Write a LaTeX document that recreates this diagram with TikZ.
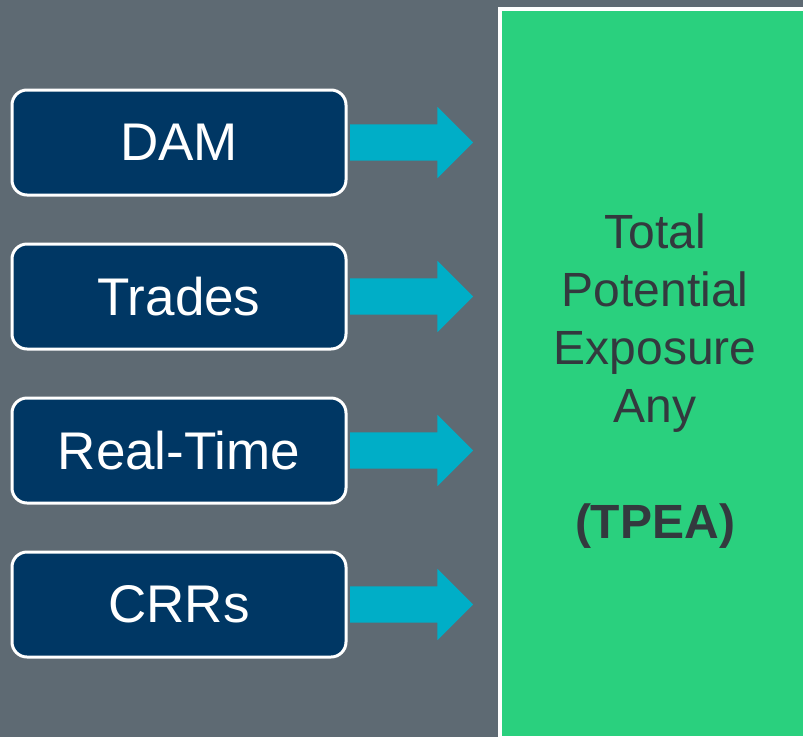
\documentclass[tikz,border=0pt]{standalone}
\usepackage{fontspec}
\setmainfont{Liberation Sans}
\usetikzlibrary{
  shapes.arrows,
  positioning}
\definecolor{bgcolor}{RGB}{94,106,115}
\definecolor{marketcolor}{RGB}{0,55,100}
\definecolor{flowcolor}{RGB}{0,174,199}
\definecolor{tpeacolor}{RGB}{42,208,126}
\definecolor{tpeatextcolor}{RGB}{51,57,62}
\tikzset{
  %% market : one market input
  market/.style={
    rectangle,
    rounded corners=15pt,
    draw=white,
    line width=3pt,
    fill=marketcolor,
    text=white,
    font=\fontsize{53}{62}\selectfont,
    minimum width=334pt,
    minimum height=105pt,
    outer sep=0pt,
    align=center
  },
  %% flow : block arrow towards the exposure box
  flow/.style={
    single arrow,
    fill=flowcolor,
    single arrow head extend=17.5pt,
    inner xsep=0pt,
    inner ysep=18pt,
    minimum height=123pt,
    outer sep=0pt
  },
  %% exposure : the total exposure box
  exposure/.style={
    rectangle,
    draw=white,
    line width=4pt,
    fill=tpeacolor,
    minimum width=310pt,
    minimum height=729pt
  },
  %% exposurelabel : text inside the exposure box
  exposurelabel/.style={
    text=tpeatextcolor,
    font=\fontsize{48}{58}\selectfont,
    align=center
  }
}

\begin{document}
\begin{tikzpicture}
  [x=1pt,
  y=-1pt]

  %% Background and page size
  \fill [bgcolor] (0, 0) rectangle (803, 737);
  \useasboundingbox (0, 0) rectangle (803, 737);
  \clip (0, 0) rectangle (803, 737);

  %% Exposure box
  \node (tpea) [exposure] at (655, 373.5){};
  \node (tpealabel) [exposurelabel] at (655, 381){%
    Total\\
    Potential\\
    Exposure\\
    Any\\[58pt]
    \textbf{(TPEA)}};

  %% Market inputs
  \node (dam) [market] at (179, 142.5){DAM};
  \node (trades) [market, below=49pt of dam]{Trades};
  \node (realtime) [market, below=49pt of trades]{Real-Time};
  \node (crrs) [market, below=49pt of realtime]{CRRs};

  %% Flows into the exposure box
  \node (damflow) [flow, right=4pt of dam]{};
  \node (tradesflow) [flow, right=4pt of trades]{};
  \node (realtimeflow) [flow, right=4pt of realtime]{};
  \node (crrsflow) [flow, right=4pt of crrs]{};

\end{tikzpicture}
\end{document}
